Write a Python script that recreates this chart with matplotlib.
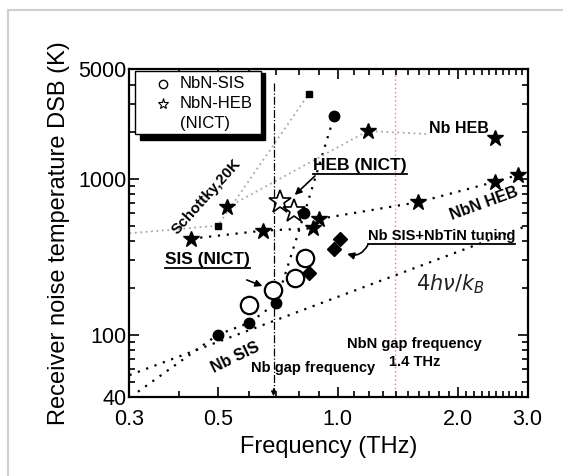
import matplotlib
matplotlib.use('Agg')
import matplotlib.pyplot as plt
from matplotlib.lines import Line2D
from matplotlib.patches import Rectangle
from matplotlib.ticker import FixedLocator, NullFormatter

plt.rcParams['font.family'] = ['Liberation Sans', 'DejaVu Sans']
plt.rcParams['mathtext.fontset'] = 'dejavusans'

# ---------------- data (THz, K) ----------------
nb_sis_f = [0.50, 0.60, 0.70, 0.825, 0.98]
nb_sis_t = [100, 119, 159, 599, 2518]
nb_sis_line_f = [0.315, 0.50, 0.60, 0.70, 0.825, 0.98]
nb_sis_line_t = [43, 100, 119, 159, 599, 2518]

nbn_sis_f = [0.60, 0.687, 0.78, 0.83]
nbn_sis_t = [155, 193, 232, 311]

nbn_heb_nict_f = [0.716, 0.775]
nbn_heb_nict_t = [711, 623]

tuning_f = [0.846, 0.978, 1.015]
tuning_t = [247, 352, 408]

schottky_f = [0.50, 0.846]
schottky_t = [499, 3484]
schottky_line_f = [0.30, 0.50, 0.846]
schottky_line_t = [446, 499, 3484]

nb_heb_f = [0.528, 1.19, 2.49]
nb_heb_t = [654, 2019, 1830]

nbn_heb_f = [0.429, 0.65, 0.867, 0.896, 1.59, 2.49, 2.83]
nbn_heb_t = [412, 464, 480, 551, 705, 955, 1054]

quantum_f = [0.30, 2.95]
quantum_t = [55, 492]

nb_gap_f = 0.69
nb_gap_top = 4100
nbn_gap_f = 1.39

x_ticks = [0.3, 0.5, 1.0, 2.0, 3.0]
x_ticklabels = ['0.3', '0.5', '1.0', '2.0', '3.0']
y_ticks = [40, 100, 1000, 5000]
y_ticklabels = ['40', '100', '1000', '5000']

# ---------------- figure ----------------
fig = plt.figure(figsize=(5.63, 4.76), dpi=100)
fig.patch.set_facecolor('white')
# page frame (light gray)
fig.add_artist(Line2D([8/563, 8/563], [0, 1 - 10/476], color='#cfcfcf', lw=1.5, transform=fig.transFigure))
fig.add_artist(Line2D([8/563, 1], [1 - 10/476, 1 - 10/476], color='#cfcfcf', lw=1.5, transform=fig.transFigure))

ax = fig.add_axes([0.230, 0.1666, 0.7073, 0.6874])
ax.set_xscale('log')
ax.set_yscale('log')
ax.set_xlim(0.3, 3.0)
ax.set_ylim(40, 5000)

for s in ax.spines.values():
    s.set_linewidth(1.6)

ax.xaxis.set_major_locator(FixedLocator(x_ticks))
ax.set_xticklabels(x_ticklabels)
xminor = [round(0.1 * i, 1) for i in range(4, 30) if round(0.1 * i, 1) not in x_ticks]
ax.xaxis.set_minor_locator(FixedLocator(xminor))
ax.xaxis.set_minor_formatter(NullFormatter())
ax.yaxis.set_major_locator(FixedLocator(y_ticks))
ax.set_yticklabels(y_ticklabels)
yminor = [50, 60, 70, 80, 90, 200, 300, 400, 500, 600, 700, 800, 900, 2000, 3000, 4000]
ax.yaxis.set_minor_locator(FixedLocator(yminor))
ax.yaxis.set_minor_formatter(NullFormatter())
ax.tick_params(which='both', direction='in', top=True, right=True, width=1.2)
ax.tick_params(which='major', length=7, labelsize=15.5)
ax.tick_params(which='minor', length=4)
ax.tick_params(axis='x', which='major', pad=9)
ax.tick_params(axis='y', which='major', pad=2)

ax.set_xlabel('Frequency (THz)', fontsize=17, labelpad=4)
ax.set_ylabel('Receiver noise temperature DSB (K)', fontsize=17, labelpad=6)

dot_black = dict(color='black', lw=1.6, linestyle=(0, (1, 3)))
dot_gray = dict(color='#a8a8a8', lw=1.3, linestyle=(0, (1, 2)))

# reference lines
ax.plot(quantum_f, quantum_t, **dot_black, zorder=2)
ax.plot(nb_sis_line_f, nb_sis_line_t, **dot_black, zorder=2)
ax.plot(nbn_heb_f, nbn_heb_t, **dot_black, zorder=2)
ax.plot(schottky_line_f, schottky_line_t, **dot_gray, zorder=2)
ax.plot(nb_heb_f, nb_heb_t, **dot_gray, zorder=2)

# gap frequency lines
ax.plot([nb_gap_f, nb_gap_f], [nb_gap_top, 44], color='black', lw=0.9, linestyle='-.', zorder=2)
ax.annotate('', xy=(nb_gap_f, 40.3), xytext=(nb_gap_f, 45),
            arrowprops=dict(arrowstyle='-|>', color='black', lw=0.9, mutation_scale=7,
                            shrinkA=0, shrinkB=0), zorder=2)
ax.axvline(nbn_gap_f, color='#e8827a', lw=1.0, linestyle=(0, (1, 2)), zorder=1)

# markers
ax.plot(nb_sis_f, nb_sis_t, 'o', color='black', ms=7.5, zorder=4)
ax.plot(nbn_sis_f, nbn_sis_t, 'o', mfc='white', mec='black', mew=1.6, ms=12.5, zorder=4)
ax.plot(nbn_heb_nict_f, nbn_heb_nict_t, '*', mfc='white', mec='black', mew=1.2, ms=17, zorder=5)
ax.plot(tuning_f, tuning_t, 'D', color='black', ms=7.5, zorder=4)
ax.plot(schottky_f, schottky_t, 's', color='black', ms=5, zorder=4)
ax.plot(nb_heb_f, nb_heb_t, '*', color='black', ms=12, zorder=4)
ax.plot(nbn_heb_f, nbn_heb_t, '*', color='black', ms=12, zorder=4)

# text labels
bold = dict(fontweight='bold', color='black')
ax.text(0.469, 766, 'Schottky,20K', rotation=48, ha='center', va='center', fontsize=11, **bold)
ax.text(2.02, 2096, 'Nb HEB', ha='center', va='center', fontsize=11.5, zorder=3,
        bbox=dict(facecolor='white', edgecolor='none', pad=1.5), **bold)
ax.text(2.33, 695, 'NbN HEB', rotation=20, ha='center', va='center', fontsize=11.5, **bold)
ax.text(0.554, 71.6, 'Nb SIS', rotation=26, ha='center', va='center', fontsize=11.5, **bold)
ax.text(0.869, 61.1, 'Nb gap frequency', ha='center', va='center', fontsize=10.5, zorder=3, **bold)
ax.text(1.56, 87, 'NbN gap frequency', ha='center', va='center', fontsize=10.5, **bold)
ax.text(1.56, 67, '1.4 THz', ha='center', va='center', fontsize=10.5, **bold)
ax.text(1.92, 211, r'$4h\nu/k_B$', ha='center', va='center', fontsize=15, color='#222222')

t_heb = ax.text(0.867, 1205, 'HEB (NICT)', ha='left', va='center', fontsize=12.5, **bold)
t_sis = ax.text(0.368, 305, 'SIS (NICT)', ha='left', va='center', fontsize=12.5, **bold)
t_tun = ax.text(1.19, 426, 'Nb SIS+NbTiN tuning', ha='left', va='center', fontsize=10.5, **bold)

# arrows
ax.annotate('', xy=(0.78, 785), xytext=(0.877, 1040),
            arrowprops=dict(arrowstyle='-|>', color='black', lw=1.2, mutation_scale=10,
                            shrinkA=0, shrinkB=0))
ax.annotate('', xy=(0.687, 193), xytext=(0.591, 224),
            arrowprops=dict(arrowstyle='-|>', color='black', lw=1.2, mutation_scale=10,
                            shrinkA=0, shrinkB=8))
ax.annotate('', xy=(1.056, 329), xytext=(1.19, 375),
            arrowprops=dict(arrowstyle='-|>', color='black', lw=1.2, mutation_scale=10,
                            shrinkA=0, shrinkB=0, connectionstyle='arc3,rad=-0.4'))

# legend (manual, with black drop shadow)
ax.add_patch(Rectangle((0.027, 0.785), 0.313, 0.205, transform=ax.transAxes,
                       facecolor='black', edgecolor='black', zorder=6, clip_on=False))
ax.add_patch(Rectangle((0.013, 0.803), 0.318, 0.192, transform=ax.transAxes,
                       facecolor='white', edgecolor='black', lw=1.0, zorder=7, clip_on=False))
ax.plot([0.084], [0.956], 'o', mfc='white', mec='black', mew=1.0, ms=6, transform=ax.transAxes, zorder=8, clip_on=False)
ax.plot([0.084], [0.896], '*', mfc='white', mec='black', mew=0.8, ms=8, transform=ax.transAxes, zorder=8, clip_on=False)
ax.text(0.127, 0.956, 'NbN-SIS', transform=ax.transAxes, fontsize=12, ha='left', va='center', zorder=8)
ax.text(0.127, 0.896, 'NbN-HEB', transform=ax.transAxes, fontsize=12, ha='left', va='center', zorder=8)
ax.text(0.127, 0.836, '(NICT)', transform=ax.transAxes, fontsize=12, ha='left', va='center', zorder=8)

# underlines
fig.canvas.draw()
r = fig.canvas.get_renderer()
inv = fig.transFigure.inverted()
for t in (t_heb, t_sis, t_tun):
    bb = t.get_window_extent(renderer=r)
    (x0, y0) = inv.transform((bb.x0, bb.y0 - 1))
    (x1, _) = inv.transform((bb.x1, bb.y0 - 1))
    fig.add_artist(Line2D([x0, x1], [y0, y0], color='black', lw=1.3, transform=fig.transFigure))

fig.savefig('out.png', dpi=100, facecolor='white')
